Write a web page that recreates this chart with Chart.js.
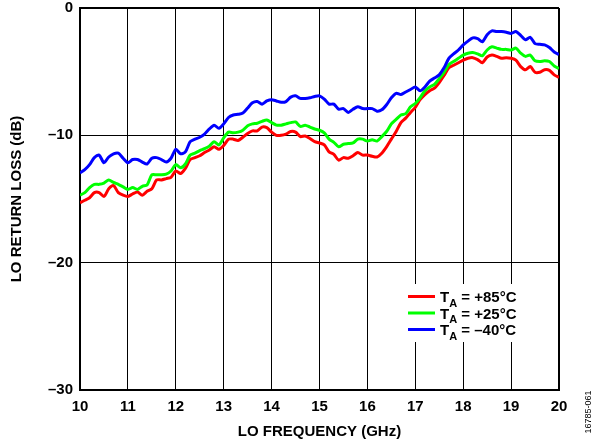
<!DOCTYPE html>
<html>
<head>
<meta charset="utf-8">
<script src="https://cdn.jsdelivr.net/npm/chart.js@4/dist/chart.umd.min.js"></script>
<style>
  html, body { margin: 0; padding: 0; background: #fff; }
  #wrap { width: 596px; height: 446px; }
</style>
</head>
<body>
<div id="wrap"><canvas id="chart" width="596" height="446"></canvas></div>
<script>
// frequency axis, 0.1 GHz steps from 10 to 20 GHz
const freqGHz = Array.from({ length: 101 }, (_, i) => Math.round((10 + i / 10) * 10) / 10);

// LO return loss (dB)
const rl85 = [
  -15.3, -15.1, -14.9, -14.5, -14.5, -14.8, -14.2, -13.95, -14.5, -14.7,
  -14.8, -14.6, -14.45, -14.7, -14.4, -14.2, -13.5, -13.5, -13.4, -13.3,
  -12.8, -13.0, -12.6, -11.9, -11.75, -11.6, -11.35, -11.15, -10.9, -11.1,
  -10.8, -10.3, -10.3, -10.4, -10.15, -9.85, -9.65, -9.65, -9.35, -9.4,
  -9.75, -10.0, -10.0, -9.9, -9.7, -9.75, -10.1, -10.05, -10.25, -10.5,
  -10.6, -10.75, -11.3, -11.5, -11.95, -11.75, -11.8, -11.6, -11.35, -11.55,
  -11.55, -11.65, -11.7, -11.4, -10.9, -10.3, -9.7, -9.0, -8.65, -8.2,
  -7.8, -7.2, -6.8, -6.5, -6.3, -5.85, -5.3, -4.7, -4.5, -4.3,
  -4.1, -3.95, -3.9, -4.05, -4.3, -3.85, -3.7, -3.8, -3.95, -3.9,
  -3.95, -4.1, -4.6, -4.85, -4.6, -5.05, -5.05, -4.85, -4.9, -5.25,
  -5.45
];
const rl25 = [
  -14.7, -14.5, -14.1, -13.85, -13.85, -13.75, -13.5, -13.7, -13.85, -14.05,
  -14.25, -14.1, -14.25, -14.0, -13.9, -13.1, -13.1, -13.1, -13.05, -12.8,
  -12.3, -12.55, -12.25, -11.55, -11.4, -11.2, -11.05, -10.85, -10.5, -10.75,
  -10.2, -9.75, -9.8, -9.75, -9.6, -9.25, -9.1, -9.05, -8.9, -8.8,
  -9.0, -9.2, -9.2, -9.1, -9.0, -8.95, -9.3, -9.2, -9.35, -9.5,
  -9.6, -9.8, -10.3, -10.55, -10.9, -10.7, -10.65, -10.6, -10.3, -10.3,
  -10.45, -10.35, -10.45, -10.1, -9.7, -9.1, -8.75, -8.4, -8.3, -7.75,
  -7.5, -7.05, -6.5, -6.2, -6.0, -5.55, -5.05, -4.45, -4.2, -3.95,
  -3.7, -3.55, -3.5, -3.6, -3.75, -3.3, -3.05, -3.15, -3.25, -3.25,
  -3.3, -3.15, -3.55, -3.8, -3.7, -4.15, -4.2, -4.15, -4.2, -4.55,
  -4.75
];
const rlM40 = [
  -12.95, -12.7, -12.3, -11.75, -11.55, -12.15, -11.7, -11.45, -11.4, -11.8,
  -12.15, -11.9, -11.9, -12.1, -12.25, -11.8, -11.75, -11.9, -12.1, -11.8,
  -11.1, -11.45, -11.3, -10.5, -10.3, -10.15, -9.9, -9.5, -9.2, -9.45,
  -9.1, -8.6, -8.4, -8.35, -8.25, -7.85, -7.45, -7.35, -7.55, -7.3,
  -7.2, -7.3, -7.4, -7.35, -7.0, -6.9, -7.1, -7.1, -7.05, -6.95,
  -6.9, -7.15, -7.55, -7.55, -7.95, -7.9, -8.2, -7.95, -7.75, -7.9,
  -7.9, -7.9, -8.1, -8.0, -7.6, -7.05, -6.7, -6.8, -6.6, -6.4,
  -6.2, -6.5, -6.2, -5.75, -5.5, -5.25, -4.7, -3.95, -3.6, -3.3,
  -2.9, -2.6, -2.35, -2.4, -2.65, -2.1, -1.8, -1.85, -1.85, -1.9,
  -2.0, -1.85, -2.15, -2.5, -2.3, -2.8, -2.85, -2.9, -3.1, -3.45,
  -3.65
];

const seriesLabels = ["+85°C", "+25°C", "\u201340°C"];
const seriesColors = ["#ff0000", "#00ff00", "#0000ff"];
const xTicks = [10, 11, 12, 13, 14, 15, 16, 17, 18, 19, 20];
const yTicks = [0, -10, -20, -30];

const FONT = "'Liberation Sans', Arial, sans-serif";

function points(values) {
  return values.map((v, i) => ({ x: freqGHz[i], y: v }));
}

// axis titles, legend and figure number
const decorations = {
  id: "decorations",
  afterDraw(chart) {
    const ctx = chart.ctx;
    const area = chart.chartArea;
    ctx.save();
    ctx.fillStyle = "#000";

    ctx.font = "bold 15px " + FONT;
    ctx.textAlign = "center";
    ctx.textBaseline = "middle";
    ctx.fillText("LO FREQUENCY (GHz)", (area.left + area.right) / 2, 432);

    ctx.save();
    ctx.translate(17, (area.top + area.bottom) / 2);
    ctx.rotate(-Math.PI / 2);
    ctx.fillText("LO RETURN LOSS (dB)", 0, 0);
    ctx.restore();

    ctx.save();
    ctx.font = "9px " + FONT;
    ctx.translate(589, 412);
    ctx.rotate(-Math.PI / 2);
    ctx.fillText("16785-061", 0, 0);
    ctx.restore();

    // legend
    ctx.fillStyle = "#fff";
    ctx.fillRect(403, 284, 122, 58);
    const rows = [296.5, 313, 329.5];
    rows.forEach((y, i) => {
      ctx.strokeStyle = seriesColors[i];
      ctx.lineWidth = 3;
      ctx.beginPath();
      ctx.moveTo(408, y);
      ctx.lineTo(435, y);
      ctx.stroke();

      ctx.fillStyle = "#000";
      ctx.textAlign = "left";
      ctx.textBaseline = "alphabetic";
      let x = 440;
      ctx.font = "bold 15px " + FONT;
      ctx.fillText("T", x, y + 5.5);
      x += ctx.measureText("T").width;
      ctx.font = "bold 11px " + FONT;
      ctx.fillText("A", x, y + 10);
      x += ctx.measureText("A").width;
      ctx.font = "bold 15px " + FONT;
      ctx.fillText(" = " + seriesLabels[i], x, y + 5.5);
    });
    ctx.restore();
  }
};

const edgeWidth = (edgeValue) => (c) => (c.tick && c.tick.value === edgeValue ? 2 : 1);

new Chart(document.getElementById("chart"), {
  type: "line",
  data: {
    datasets: [
      { label: "TA = " + seriesLabels[0], data: points(rl85), borderColor: seriesColors[0], order: 3 },
      { label: "TA = " + seriesLabels[1], data: points(rl25), borderColor: seriesColors[1], order: 2 },
      { label: "TA = " + seriesLabels[2], data: points(rlM40), borderColor: seriesColors[2], order: 1 }
    ]
  },
  options: {
    responsive: false,
    animation: false,
    devicePixelRatio: 1,
    layout: { padding: { top: 0, right: 37, bottom: 0, left: 0 } },
    elements: {
      line: { borderWidth: 3, tension: 0.25, fill: false },
      point: { radius: 0 }
    },
    plugins: {
      legend: { display: false },
      tooltip: { enabled: false }
    },
    scales: {
      x: {
        type: "linear",
        min: 10,
        max: 20,
        afterFit: (s) => { s.height = 56; },
        afterBuildTicks: (s) => { s.ticks = xTicks.map(v => ({ value: v })); },
        ticks: {
          color: "#000",
          padding: 8,
          maxRotation: 0,
          font: { family: FONT, size: 15, weight: "bold" }
        },
        grid: { color: "#000", lineWidth: edgeWidth(20), drawTicks: false },
        border: { color: "#000", width: 2 }
      },
      y: {
        min: -30,
        max: 0,
        afterFit: (s) => { s.width = 80; s.paddingTop = 8; },
        afterBuildTicks: (s) => { s.ticks = yTicks.map(v => ({ value: v })); },
        ticks: {
          color: "#000",
          padding: 7,
          font: { family: FONT, size: 15, weight: "bold", lineHeight: 1 },
          callback: (v) => String(v).replace("-", "\u2013")
        },
        grid: { color: "#000", lineWidth: edgeWidth(0), drawTicks: false },
        border: { color: "#000", width: 2 }
      }
    }
  },
  plugins: [decorations]
});
</script>
</body>
</html>
